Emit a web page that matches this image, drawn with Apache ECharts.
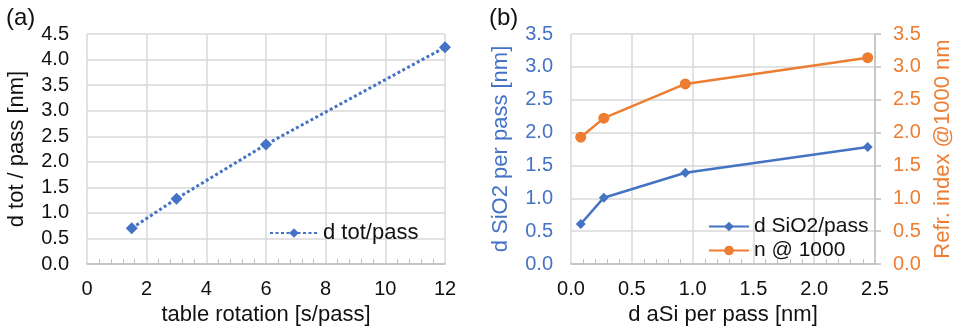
<!DOCTYPE html>
<html><head><meta charset="utf-8">
<script src="https://cdn.jsdelivr.net/npm/echarts@6/dist/echarts.min.js"></script>
<style>html,body{margin:0;padding:0;background:#fff}#c{width:975px;height:331px}</style>
</head><body><div id="c"></div>
<script>
// Panel (a)
const rotX = [1.5, 3, 6, 12];
const dTot = [0.70, 1.28, 2.34, 4.24];
// Panel (b)
const aSiX = [0.08, 0.27, 0.94, 2.44];
const dSiO2 = [0.61, 1.01, 1.39, 1.78];
const nIdx = [1.93, 2.22, 2.74, 3.14];

const BLUE = '#4472C4', ORANGE = '#ED7D31', GRID = '#d9d9d9', FONT = 'Liberation Sans';
const pairs = (xs, ys) => xs.map((x, i) => [x, ys[i]]);

const chart = echarts.init(document.getElementById('c'));
const baseX = (gi, min, max, interval, name, fmt) => ({
  type: 'value', gridIndex: gi, min, max, interval,
  name, nameLocation: 'middle', nameGap: 35,
  nameTextStyle: { fontFamily: FONT, fontSize: 22, color: '#111' },
  axisLine: { show: true, lineStyle: { color: '#bfbfbf', width: 1.5 } },
  axisTick: { show: false, inside: true },
  minorTick: { show: true, splitNumber: 5, length: 5, lineStyle: { color: '#bfbfbf' } },
  splitLine: { show: true, lineStyle: { color: GRID, width: 1.5 } },
  axisLabel: { fontFamily: FONT, fontSize: 20, color: '#111', margin: 15, formatter: fmt }
});
const f1 = v => v.toFixed(1);
const baseY = (gi, name, color, pos, gap, showLine) => ({
  type: 'value', gridIndex: gi, min: 0, max: gi === 0 ? 4.5 : 3.5, interval: 0.5, position: pos,
  name, nameLocation: 'middle', nameGap: gap,
  nameTextStyle: { fontFamily: FONT, fontSize: 22, color },
  axisLine: { show: showLine, lineStyle: { color: '#bfbfbf', width: 1.5 } },
  axisTick: { show: showLine, length: 6, lineStyle: { color: '#bfbfbf', width: 1.5 } },
  splitLine: { show: !showLine, lineStyle: { color: GRID, width: 1.5 } },
  axisLabel: { fontFamily: FONT, fontSize: 20, color, margin: 18, formatter: f1 }
});

chart.setOption({
  animation: false,
  title: [
    { text: '(a)', left: 1, top: 1, textStyle: { fontFamily: FONT, fontSize: 24, fontWeight: 'normal', color: '#111' } },
    { text: '(b)', left: 484, top: 1, textStyle: { fontFamily: FONT, fontSize: 24, fontWeight: 'normal', color: '#111' } }
  ],
  grid: [
    { left: 87, right: 530, top: 34, bottom: 65 },
    { left: 571, right: 100, top: 34, bottom: 64 }
  ],
  legend: [
    { data: ['d tot/pass'], left: 264, top: 217, itemWidth: 48, itemHeight: 12,
      textStyle: { fontFamily: FONT, fontSize: 22, color: '#111' } },
    { data: ['d SiO2/pass', 'n @ 1000'], left: 703, top: 211, orient: 'vertical', itemGap: 3,
      itemWidth: 40, itemHeight: 12, textStyle: { fontFamily: FONT, fontSize: 21, color: '#111' } }
  ],
  xAxis: [
    baseX(0, 0, 12, 2, 'table rotation [s/pass]', v => String(v)),
    baseX(1, 0, 2.5, 0.5, 'd aSi per pass [nm]', f1)
  ],
  yAxis: [
    baseY(0, 'd tot / pass [nm]', '#111', 'left', 59, false),
    baseY(1, 'd SiO2 per pass [nm]', BLUE, 'left', 59, false),
    baseY(1, 'Refr. index @1000 nm', ORANGE, 'right', 57, true)
  ],
  series: [
    { name: 'd tot/pass', type: 'line', xAxisIndex: 0, yAxisIndex: 0, data: pairs(rotX, dTot),
      symbol: 'diamond', symbolSize: 12, itemStyle: { color: BLUE },
      lineStyle: { color: BLUE, width: 3, type: [3, 2.5] } },
    { name: 'd SiO2/pass', type: 'line', xAxisIndex: 1, yAxisIndex: 1, data: pairs(aSiX, dSiO2),
      symbol: 'diamond', symbolSize: 10, itemStyle: { color: BLUE },
      lineStyle: { color: BLUE, width: 2.5 } },
    { name: 'n @ 1000', type: 'line', xAxisIndex: 1, yAxisIndex: 2, data: pairs(aSiX, nIdx),
      symbol: 'circle', symbolSize: 11, itemStyle: { color: ORANGE },
      lineStyle: { color: ORANGE, width: 2.5 } }
  ]
});
</script></body></html>
